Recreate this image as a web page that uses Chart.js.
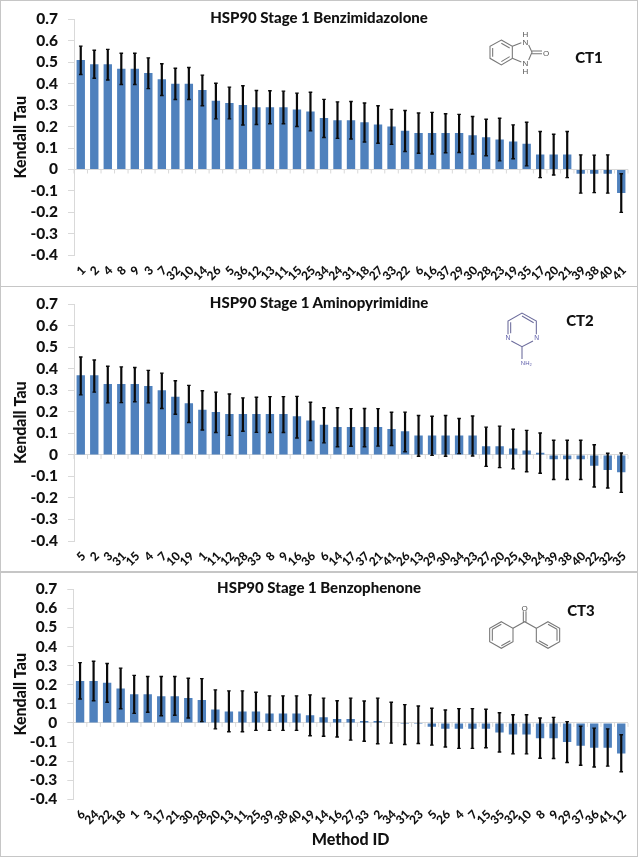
<!DOCTYPE html>
<html>
<head>
<meta charset="utf-8">
<style>
  html, body { margin: 0; padding: 0; background: #fff; }
  #page { position: relative; width: 638px; height: 857px; overflow: hidden; font-family: Lato, sans-serif; color: #111; }
  .panel { position: absolute; left: 0; width: 638px; box-sizing: border-box; border: 1.5px solid #c6c6c6; }
  canvas { position: absolute; left: 0; }
  .title, .ct { position: absolute; font-weight: 900; white-space: nowrap; transform: translate(-50%, -50%); }
  .title { font-size: 15px; }
  .ct { font-size: 15px; }
  svg { position: absolute; }
  svg .b { fill: none; stroke: #777; stroke-width: 3.2; }
  svg text { font-family: "Liberation Sans", sans-serif; font-size: 24px; fill: #555; text-anchor: middle; }
</style>
</head>
<body>
<div id="page">
  <div class="panel" style="top:0;height:287px"></div>
  <div class="panel" style="top:285.5px;height:287px"></div>
  <div class="panel" style="top:570.5px;height:286.5px"></div>

  <canvas id="ct1Chart" width="638" height="285" style="top:0"></canvas>
  <canvas id="ct2Chart" width="638" height="285" style="top:285px"></canvas>
  <canvas id="ct3Chart" width="638" height="287" style="top:570px"></canvas>

  <div class="title" style="left:319px;top:17px">HSP90 Stage 1 Benzimidazolone</div>
  <div class="title" style="left:319px;top:302px">HSP90 Stage 1 Aminopyrimidine</div>
  <div class="title" style="left:319px;top:587px">HSP90 Stage 1 Benzophenone</div>
  <div class="ct" style="left:589px;top:57px">CT1</div>
  <div class="ct" style="left:580px;top:320px">CT2</div>
  <div class="ct" style="left:581px;top:610px">CT3</div>

  <!-- molecule sketches, drawn in 3x coordinates -->
  <svg style="left:318px;top:0" width="320" height="290" viewBox="0 0 960 870">
    <path class="b" d="M550 120L583 139V175L550 195L516 175V139Z"/>
    <path class="b" d="M550 130L575 144M575 170L550 185M524 170V144"/>
    <path class="b" d="M583 139L610 128M583 175L610 186M632 135L642 157L632 180M642 153H672M642 161H672"/>
    <text x="622" y="136">N</text><text x="622" y="111">H</text>
    <text x="622" y="197">N</text><text x="622" y="222">H</text>
    <text x="684" y="167">O</text>
  </svg>
  <svg style="left:318px;top:285px" width="320" height="290" viewBox="0 0 960 870">
    <path d="M570 148V108L612 84L655 108V148M645 168L612 185L580 168M612 185V222M578 145V112M612 93L647 113" style="fill:none;stroke:#6c6c9c;stroke-width:3.2"/>
    <text x="570" y="166" style="fill:#5a5aa8;font-size:20px">N</text>
    <text x="656" y="166" style="fill:#5a5aa8;font-size:20px">N</text>
    <text x="625" y="240" style="fill:#5a5aa8;font-size:18px">NH₂</text>
  </svg>
  <svg style="left:318px;top:570px" width="320" height="287" viewBox="0 0 960 861">
    <path class="b" d="M550 155L585 175V215L550 235L515 215V175Z"/>
    <path class="b" d="M523 178L550 163M523 212V178M550 227L577 212"/>
    <path class="b" d="M690 155L725 175V215L690 235L655 215V175Z"/>
    <path class="b" d="M690 163L717 178M717 212V178M663 212L690 227"/>
    <path class="b" d="M585 175L620 155L655 175M616 155V124M624 155V124"/>
    <text x="620" y="122">O</text>
  </svg>
</div>

<script src="https://cdn.jsdelivr.net/npm/chart.js@4"></script>
<script>
// y axis ticks shared by the three panels
const yTicks = [-0.4, -0.3, -0.2, -0.1, 0, 0.1, 0.2, 0.3, 0.4, 0.5, 0.6, 0.7];

// CT1 Benzimidazolone
const ct1Ids = ['1','2','4','8','9','3','7','32','10','14','26','5','36','12','13','11','15','25','34','24','31','18','27','33','22','6','16','37','29','30','28','23','19','35','17','20','21','39','38','40','41'];
const ct1Tau = [.51,.49,.49,.47,.47,.45,.42,.40,.40,.37,.32,.31,.30,.29,.29,.29,.28,.27,.24,.23,.23,.22,.21,.20,.18,.17,.17,.17,.17,.16,.15,.14,.13,.12,.07,.07,.07,-.02,-.02,-.02,-.11];
const ct1High = [.575,.556,.56,.542,.542,.52,.493,.472,.475,.44,.402,.384,.39,.368,.367,.365,.356,.36,.327,.315,.317,.31,.297,.28,.275,.263,.266,.26,.257,.247,.234,.239,.208,.22,.177,.164,.177,.068,.067,.068,-.02];
const ct1Low = [.443,.425,.417,.396,.396,.377,.345,.326,.326,.297,.236,.236,.207,.21,.213,.213,.2,.18,.149,.145,.142,.128,.122,.117,.084,.076,.072,.078,.079,.072,.064,.04,.05,.017,-.038,-.026,-.038,-.11,-.108,-.11,-.2];

// CT2 Aminopyrimidine
const ct2Ids = ['5','2','3','31','15','4','7','10','19','1','11','12','28','33','8','9','16','36','6','14','17','37','21','41','26','13','29','30','34','23','27','20','25','18','24','39','38','40','22','32','35'];
const ct2Tau = [.37,.37,.33,.33,.33,.32,.30,.27,.24,.21,.20,.19,.19,.19,.19,.19,.18,.16,.14,.13,.13,.13,.13,.12,.11,.09,.09,.09,.09,.09,.04,.04,.03,.02,.01,-.02,-.02,-.02,-.05,-.07,-.08];
const ct2High = [.455,.441,.412,.409,.406,.393,.38,.345,.323,.298,.292,.283,.265,.268,.271,.271,.272,.245,.219,.219,.215,.216,.215,.198,.199,.183,.18,.183,.169,.181,.129,.134,.119,.114,.102,.068,.068,.068,.047,.008,.009];
const ct2Low = [.279,.292,.242,.243,.247,.242,.216,.189,.151,.116,.104,.091,.11,.105,.104,.104,.079,.067,.056,.038,.04,.038,.041,.044,.015,-.006,-.002,-.006,.006,-.005,-.053,-.059,-.065,-.078,-.085,-.114,-.114,-.114,-.149,-.154,-.174];

// CT3 Benzophenone
const ct3Ids = ['6','24','22','18','1','3','17','21','30','28','20','13','11','25','39','38','40','19','14','16','27','33','2','34','31','23','5','26','4','7','15','35','32','10','8','9','29','37','36','41','12'];
const ct3Tau = [.22,.22,.21,.18,.15,.15,.14,.14,.13,.12,.07,.06,.06,.06,.05,.05,.05,.04,.03,.02,.02,.01,.01,0,-.005,-.005,-.02,-.03,-.03,-.03,-.03,-.05,-.06,-.06,-.08,-.08,-.10,-.12,-.13,-.13,-.16];
const ct3High = [.316,.323,.311,.287,.249,.243,.243,.243,.234,.232,.173,.168,.168,.161,.142,.142,.142,.147,.13,.116,.13,.115,.13,.108,.096,.089,.077,.068,.075,.075,.072,.053,.043,.043,.026,.029,.007,-.017,-.027,-.031,-.062];
const ct3Low = [.125,.116,.108,.074,.05,.056,.038,.04,.026,.007,-.031,-.046,-.046,-.039,-.039,-.039,-.039,-.067,-.07,-.074,-.09,-.096,-.109,-.106,-.113,-.108,-.116,-.126,-.133,-.133,-.13,-.152,-.162,-.162,-.185,-.186,-.207,-.222,-.231,-.226,-.256];

const axisGrey = '#d9d9d9';

function makeChart(canvasId, ids, tau, low, high, plotTop, plotBottom, plotLeft, xTitle) {
  const canvas = document.getElementById(canvasId);

  // black whiskers and the small tick marks along the zero line
  const extras = {
    id: 'extras',
    afterDatasetsDraw(chart) {
      const c = chart.ctx, x = chart.scales.x, y = chart.scales.y;
      const step = x.getPixelForValue(1) - x.getPixelForValue(0);
      c.save();
      c.strokeStyle = axisGrey;
      c.lineWidth = 1;
      for (let i = 0; i <= ids.length; i++) {
        const px = x.getPixelForValue(0) + (i - 0.5) * step;
        c.beginPath();
        c.moveTo(px, y.getPixelForValue(0));
        c.lineTo(px, y.getPixelForValue(0) + 4);
        c.stroke();
      }
      c.strokeStyle = '#0a0a0a';
      for (let i = 0; i < ids.length; i++) {
        const px = x.getPixelForValue(i);
        const top = y.getPixelForValue(high[i]), bot = y.getPixelForValue(low[i]);
        c.lineWidth = 2.2;
        c.beginPath(); c.moveTo(px, top); c.lineTo(px, bot); c.stroke();
        c.lineWidth = 1.4;
        c.beginPath();
        c.moveTo(px - 1.8, top); c.lineTo(px + 1.8, top);
        c.moveTo(px - 1.8, bot); c.lineTo(px + 1.8, bot);
        c.stroke();
      }
      c.restore();
    }
  };

  return new Chart(canvas, {
    type: 'bar',
    data: {
      labels: ids,
      datasets: [{ data: tau, backgroundColor: '#4f81bd', barPercentage: 0.62, categoryPercentage: 1 }]
    },
    plugins: [extras],
    options: {
      responsive: false,
      animation: false,
      layout: { padding: { top: plotTop, right: 10, left: 0, bottom: 0 } },
      plugins: { legend: { display: false }, tooltip: { enabled: false } },
      scales: {
        x: {
          grid: { display: false },
          border: { display: false },
          ticks: {
            autoSkip: false, minRotation: 45, maxRotation: 45, padding: 0, labelOffset: 3,
            color: '#111', font: { family: 'Lato', weight: '900', size: 12 }
          },
          title: {
            display: !!xTitle, text: xTitle, color: '#111', padding: { top: 0, bottom: 8 },
            font: { family: 'Lato', weight: '900', size: 16 }
          },
          afterFit(s) { s.height = canvas.height - plotBottom; }
        },
        y: {
          min: -0.4,
          max: 0.7,
          afterBuildTicks(s) { s.ticks = yTicks.map(v => ({ value: v })); },
          grid: {
            tickLength: 6,
            tickColor: axisGrey,
            color: ctx => (ctx.tick && ctx.tick.value === 0 ? axisGrey : 'transparent')
          },
          border: { display: true, color: axisGrey },
          ticks: {
            autoSkip: false, padding: 10, color: '#111', font: { family: 'Lato', weight: '900', size: 15.5 },
            callback: v => (v === 0 ? '0' : v.toFixed(1))
          },
          title: {
            display: true, text: 'Kendall Tau', color: '#111', padding: { top: 11, bottom: 0 },
            font: { family: 'Lato', weight: '900', size: 16 }
          },
          afterFit(s) { s.width = plotLeft; }
        }
      }
    }
  });
}

makeChart('ct1Chart', ct1Ids, ct1Tau, ct1Low, ct1High, 14.7, 255.3, 74);
makeChart('ct2Chart', ct2Ids, ct2Tau, ct2Low, ct2High, 14.7, 256, 74);
makeChart('ct3Chart', ct3Ids, ct3Tau, ct3Low, ct3High, 14.7, 229.3, 73.3, 'Method ID');
</script>
</body>
</html>
